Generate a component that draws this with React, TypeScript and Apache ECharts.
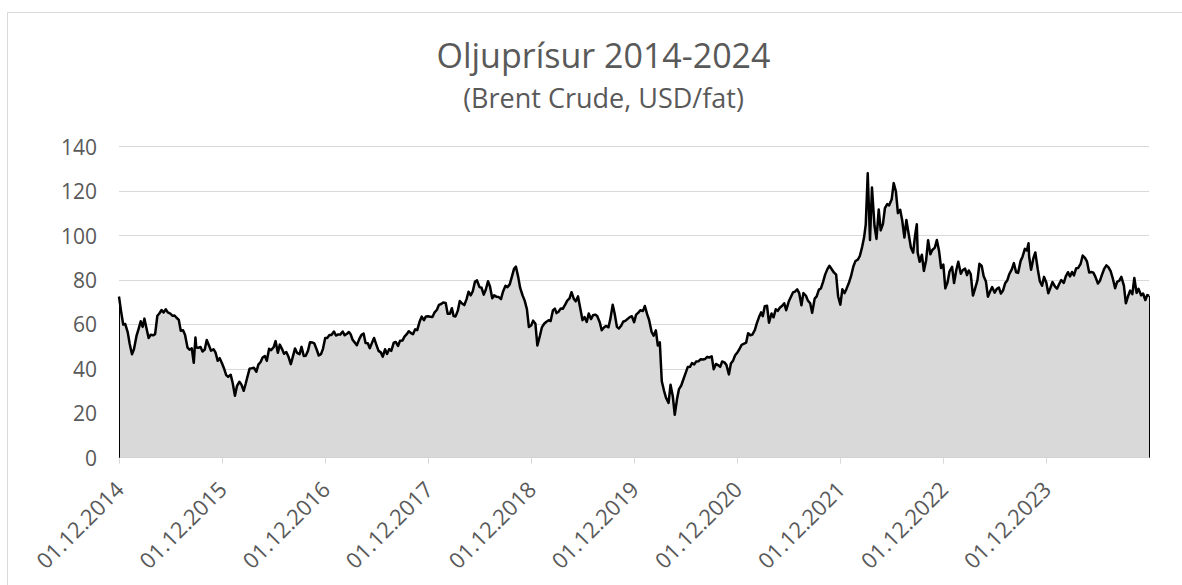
import { useEffect, useRef } from "react";
import * as echarts from "echarts";

const chartTitle = "Oljuprísur 2014-2024";
const chartSubtitle = "(Brent Crude, USD/fat)";

// Y axis ticks
const yMin = 0;
const yMax = 140;
const yStep = 20;

// X axis tick years (labels "01.12.YYYY")
const tickYears = [2014, 2015, 2016, 2017, 2018, 2019, 2020, 2021, 2022, 2023];

// Day of month for each value inside a month list
const sampleDays = [1, 8, 16, 23, 29];

// Brent Crude, USD per barrel; each inner list = one month (values around days 1, 8, 16, 23, 29)
const brent2014 = [
  [72.5, 66.2, 59.9, 60.2], // Dec
];
const brent2015 = [
  [56.4, 51.2, 46.6, 48.8],
  [54.8, 57.8, 61.4, 58.9],
  [62.6, 58.5, 53.9, 55.3],
  [55.1, 55.6, 63.9, 64.9],
  [66.5, 65.4, 66.8, 65.4],
  [64.9, 63.9, 64.0, 63.0],
  [62.0, 57.1, 57.4, 55.3],
  [49.5, 48.6, 49.2, 42.7, 54.1],
  [49.6, 49.5, 49.8, 47.8],
  [48.7, 53.0, 50.5, 48.2],
  [48.8, 47.4, 43.6, 44.8],
  [42.5, 40.3, 37.2, 36.4],
];
const brent2016 = [
  [37.3, 33.6, 27.9, 32.2],
  [34.2, 32.9, 30.1, 33.3],
  [36.8, 40.1, 40.3, 40.5],
  [38.7, 41.9, 43.1, 45.1],
  [45.8, 43.6, 49.0, 48.4],
  [49.7, 52.5, 47.2, 50.9],
  [48.9, 46.8, 47.6, 45.7],
  [42.1, 45.4, 49.2, 47.2],
  [46.6, 49.9, 45.8, 45.9],
  [48.2, 52.0, 51.9, 51.5],
  [48.6, 46.0, 46.6, 49.0],
  [53.9, 53.9, 55.2, 55.2],
];
const brent2017 = [
  [56.8, 55.0, 55.5, 55.4],
  [56.8, 55.1, 55.8, 56.6],
  [55.6, 53.1, 51.8, 50.6],
  [53.5, 55.2, 55.9, 51.6],
  [51.5, 49.3, 51.8, 53.9],
  [50.6, 48.1, 47.4, 45.5],
  [48.8, 46.7, 48.9, 48.1],
  [51.8, 52.1, 50.3, 52.6],
  [52.8, 54.5, 55.6, 56.9],
  [56.1, 55.6, 57.8, 57.4],
  [61.4, 63.5, 61.9, 63.6],
  [63.7, 63.4, 63.3, 65.3],
];
const brent2018 = [
  [66.6, 68.8, 69.2, 69.9],
  [69.7, 64.8, 64.8, 67.3],
  [63.8, 63.6, 66.2, 70.5],
  [69.3, 68.7, 71.4, 74.7],
  [73.1, 74.9, 79.3, 79.8],
  [76.8, 76.5, 73.4, 75.6],
  [79.4, 77.1, 71.8, 73.1],
  [72.4, 72.3, 71.4, 74.7],
  [77.4, 76.8, 78.0, 81.2],
  [84.9, 86.0, 81.4, 76.4],
  [72.9, 70.7, 66.8, 58.8],
  [59.5, 61.7, 60.3, 50.5],
];
const brent2019 = [
  [54.9, 58.7, 60.3, 61.1],
  [61.9, 61.5, 66.3, 67.1],
  [65.1, 65.7, 67.2, 67.0],
  [69.0, 70.7, 71.7, 74.5],
  [71.6, 70.4, 72.6, 68.0],
  [61.9, 63.3, 61.1, 64.9],
  [62.4, 64.1, 64.4, 63.8],
  [61.0, 57.4, 58.6, 59.3],
  [58.7, 62.6, 68.9, 64.8],
  [58.9, 58.2, 59.4, 61.2],
  [61.7, 62.5, 63.3, 63.7],
  [61.0, 64.4, 65.3, 66.4],
];
const brent2020 = [
  [66.0, 68.3, 64.6, 62.0],
  [56.6, 54.9, 57.3, 50.5],
  [51.9, 34.4, 30.1, 27.0],
  [24.7, 32.8, 27.7, 19.3],
  [26.4, 30.9, 32.5, 35.1],
  [38.3, 40.8, 40.9, 42.6],
  [42.0, 43.3, 43.4, 44.3],
  [44.2, 44.4, 45.4, 45.1],
  [45.6, 39.8, 42.2, 41.7],
  [40.9, 43.3, 42.9, 41.8],
  [37.5, 42.4, 43.8, 46.1],
  [47.4, 48.8, 50.8, 51.2],
];
const brent2021 = [
  [51.8, 56.0, 55.1, 55.4],
  [57.5, 60.6, 63.4, 65.4],
  [63.7, 68.2, 68.4, 60.8],
  [64.9, 63.2, 66.8, 66.1],
  [67.6, 68.3, 69.5, 66.4],
  [70.3, 72.2, 74.4, 74.8],
  [75.8, 74.1, 68.6, 74.1],
  [72.9, 70.7, 69.5, 65.2],
  [71.6, 72.6, 75.7, 76.2],
  [79.3, 82.4, 84.9, 86.4],
  [84.7, 83.4, 82.4, 72.7],
  [68.9, 75.8, 74.1, 76.1],
];
const brent2022 = [
  [79.0, 81.8, 86.1, 88.4],
  [89.2, 90.8, 94.8, 99.1],
  [105.0, 128.0, 98.0, 121.6],
  [104.4, 98.5, 111.7, 102.3],
  [105.3, 112.4, 114.2, 113.6],
  [116.3, 123.6, 119.8, 110.1],
  [111.6, 107.0, 99.1, 107.0],
  [100.0, 94.6, 92.3, 100.2, 105.1],
  [92.4, 88.2, 91.4, 84.1],
  [88.9, 97.9, 91.6, 93.5],
  [94.6, 98.0, 92.9, 85.4],
  [86.9, 76.2, 79.0, 83.9],
];
const brent2023 = [
  [85.9, 78.6, 84.5, 88.2],
  [82.8, 84.5, 85.1, 82.2],
  [84.3, 82.7, 73.0, 75.9],
  [79.9, 87.3, 86.3, 81.7],
  [79.3, 72.5, 74.9, 76.8],
  [74.3, 75.9, 76.6, 73.9],
  [75.4, 78.5, 79.9, 82.7],
  [84.9, 87.6, 83.5, 83.2],
  [88.6, 90.6, 94.0, 93.3, 96.5],
  [90.7, 84.6, 89.7, 92.4],
  [84.6, 79.5, 77.4, 81.4],
  [78.9, 74.0, 76.6, 79.1],
];
const brent2024 = [
  [77.0, 76.1, 78.3, 80.0],
  [78.7, 81.6, 83.5, 81.6],
  [83.6, 82.1, 85.3, 85.4],
  [87.4, 91.0, 90.0, 88.4],
  [83.4, 83.6, 83.3, 81.4],
  [78.4, 79.6, 82.6, 85.0],
  [86.6, 85.8, 84.0, 81.0],
  [76.3, 79.2, 79.7, 81.4],
  [77.5, 69.5, 72.8, 75.2],
  [73.6, 80.9, 74.2, 76.0],
  [73.1, 73.9, 71.0, 73.2, 72.9],
];

const yearBlocks: { year: number; startMonth: number; months: number[][] }[] = [
  { year: 2014, startMonth: 11, months: brent2014 },
  { year: 2015, startMonth: 0, months: brent2015 },
  { year: 2016, startMonth: 0, months: brent2016 },
  { year: 2017, startMonth: 0, months: brent2017 },
  { year: 2018, startMonth: 0, months: brent2018 },
  { year: 2019, startMonth: 0, months: brent2019 },
  { year: 2020, startMonth: 0, months: brent2020 },
  { year: 2021, startMonth: 0, months: brent2021 },
  { year: 2022, startMonth: 0, months: brent2022 },
  { year: 2023, startMonth: 0, months: brent2023 },
  { year: 2024, startMonth: 0, months: brent2024 },
];

const DAY = 86400000;
const origin = Date.UTC(2014, 11, 1);

function buildData(): [number, number][] {
  const out: [number, number][] = [];
  yearBlocks.forEach((b) => {
    b.months.forEach((vals, mi) => {
      vals.forEach((v, k) => {
        const t = Date.UTC(b.year, b.startMonth + mi, sampleDays[k]);
        out.push([(t - origin) / DAY, v]);
      });
    });
  });
  return out;
}

export default function App() {
  const ref = useRef<HTMLDivElement>(null);

  useEffect(() => {
    if (!ref.current) return;
    const chart = echarts.init(ref.current, undefined, { renderer: "svg" });
    const data = buildData();
    const first = data[0];
    const last = data[data.length - 1];
    const tickDays = tickYears.map((y) => (Date.UTC(y, 11, 1) - origin) / DAY);
    const font = "'Open Sans', 'Liberation Sans', sans-serif";

    chart.setOption({
      animation: false,
      backgroundColor: "#ffffff",
      grid: { left: 119, right: 33, top: 146.7, bottom: 127.3, containLabel: false },
      xAxis: {
        type: "value",
        min: 0,
        max: last[0],
        axisLine: { show: true, lineStyle: { color: "#bfbfbf", width: 1 } },
        axisTick: {
          show: true,
          length: 6,
          customValues: tickDays,
          lineStyle: { color: "#d9d9d9", width: 1 },
        },
        splitLine: { show: false },
        axisLabel: {
          customValues: tickDays,
          rotate: 45,
          margin: 27,
          color: "#595959",
          fontSize: 22,
          fontFamily: font,
          formatter: (v: number) => {
            const yr = Math.round(v / 365.25) + 2014;
            return "01.12." + yr;
          },
        },
      },
      yAxis: {
        type: "value",
        min: yMin,
        max: yMax,
        interval: yStep,
        axisLine: { show: false },
        axisTick: { show: false },
        splitLine: { show: true, lineStyle: { color: "#d9d9d9", width: 1 } },
        axisLabel: { color: "#595959", fontSize: 21, fontFamily: font, margin: 22 },
      },
      graphic: [
        {
          type: "rect",
          shape: { x: 7.5, y: 12.5, width: 1200, height: 600 },
          style: { fill: "none", stroke: "#d9d9d9", lineWidth: 1 },
          silent: true,
          z: -10,
        },
        {
          type: "text",
          x: 603.5,
          y: 55,
          style: {
            text: chartTitle,
            textAlign: "center",
            textVerticalAlign: "middle",
            fill: "#595959",
            fontSize: 34,
            fontFamily: font,
          },
        },
        {
          type: "text",
          x: 603.5,
          y: 97.5,
          style: {
            text: chartSubtitle,
            textAlign: "center",
            textVerticalAlign: "middle",
            fill: "#595959",
            fontSize: 27,
            fontFamily: font,
          },
        },
      ],
      series: [
        {
          type: "line",
          data,
          showSymbol: false,
          symbol: "none",
          lineStyle: { color: "#000000", width: 2.5, join: "round" },
          areaStyle: { color: "#d9d9d9", opacity: 1 },
          markLine: {
            silent: true,
            symbol: ["none", "none"],
            label: { show: false },
            lineStyle: { color: "#000000", width: 1, type: "solid" },
            data: [
              [{ coord: [first[0], 0] }, { coord: [first[0], first[1]] }],
              [{ coord: [last[0], 0] }, { coord: [last[0], last[1]] }],
            ],
          },
        },
      ],
    });
    return () => chart.dispose();
  }, []);

  return (
    <div
      ref={ref}
      style={{ position: "absolute", left: 0, top: 0, width: 1182, height: 585, background: "#fff" }}
    />
  );
}
